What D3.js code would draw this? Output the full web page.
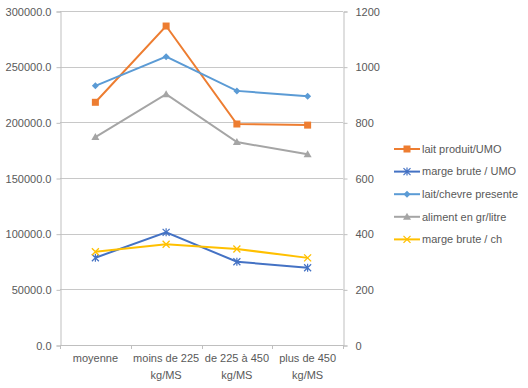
<!DOCTYPE html>
<html>
<head>
<meta charset="utf-8">
<script src="https://d3js.org/d3.v7.min.js"></script>
<style>
  body { margin: 0; background: #fff; }
  text { font-family: "Liberation Sans", Arial, sans-serif; font-size: 11px; fill: #595959; }
</style>
</head>
<body>
<script>
// categories and tick values
var categories = ["moyenne", "moins de 225 kg/MS", "de 225 à 450 kg/MS", "plus de 450 kg/MS"];
var catLines = [["moyenne"], ["moins de 225", "kg/MS"], ["de 225 à 450", "kg/MS"], ["plus de 450", "kg/MS"]];
var leftTicks = [0, 50000, 100000, 150000, 200000, 250000, 300000];
var rightTicks = [0, 200, 400, 600, 800, 1000, 1200];

// series values (left axis)
var laitProduitUMO = [218000, 286500, 198500, 197500];
var margeBruteUMO = [78400, 101200, 74800, 69400];
// series values (right axis)
var laitChevre = [931, 1036, 913, 894];
var alimentGrLitre = [747, 901, 729, 685];
var margeBruteCh = [335, 362, 345, 313];

var series = [
  { name: "lait produit/UMO", values: laitProduitUMO, axis: "left", color: "#ED7D31", marker: "square" },
  { name: "marge brute / UMO", values: margeBruteUMO, axis: "left", color: "#4472C4", marker: "star" },
  { name: "lait/chevre presente", values: laitChevre, axis: "right", color: "#5B9BD5", marker: "diamond" },
  { name: "aliment en gr/litre", values: alimentGrLitre, axis: "right", color: "#A5A5A5", marker: "triangle" },
  { name: "marge brute / ch", values: margeBruteCh, axis: "right", color: "#FFC000", marker: "cross" }
];

var width = 528, height = 388;
var plotLeft = 60, plotRight = 343, plotTop = 11, plotBottom = 345;

var svg = d3.select("body").append("svg")
  .attr("width", width)
  .attr("height", height);

var x = d3.scaleBand().domain(categories).range([plotLeft, plotRight]);
var yL = d3.scaleLinear().domain([0, 300000]).range([plotBottom, plotTop]);
var yR = d3.scaleLinear().domain([0, 1200]).range([plotBottom, plotTop]);

// gridlines
svg.append("g")
  .selectAll("line")
  .data(leftTicks.slice(1))
  .enter().append("line")
  .attr("x1", plotLeft).attr("x2", plotRight)
  .attr("y1", function(d) { return Math.round(yL(d)) + 0.5; })
  .attr("y2", function(d) { return Math.round(yL(d)) + 0.5; })
  .style("stroke", "#c8c8c8")
  .style("stroke-width", 1);

// left axis
var gL = svg.append("g").attr("transform", "translate(" + (plotLeft + 0.5) + ",0.5)")
  .call(d3.axisLeft(yL).tickValues(leftTicks).tickFormat(d3.format(".1f")).tickSize(4).tickPadding(5));
// right axis
var gR = svg.append("g").attr("transform", "translate(" + (plotRight + 0.5) + ",0.5)")
  .call(d3.axisRight(yR).tickValues(rightTicks).tickFormat(d3.format("d")).tickSize(4).tickPadding(8));
[gL, gR].forEach(function(g) {
  g.select(".domain").style("stroke", "#bfbfbf");
  g.selectAll(".tick line").style("stroke", "#bfbfbf");
  g.selectAll("text").style("font-family", "Liberation Sans, Arial, sans-serif").style("font-size", "11px").style("fill", "#595959");
});

// bottom axis
svg.append("line")
  .attr("x1", plotLeft).attr("x2", plotRight + 1)
  .attr("y1", plotBottom + 0.5).attr("y2", plotBottom + 0.5)
  .style("stroke", "#bfbfbf");
var bounds = categories.map(function(c) { return x(c); }).concat([plotRight]);
svg.append("g").selectAll("line")
  .data(bounds)
  .enter().append("line")
  .attr("x1", function(d) { return Math.round(d) + 0.5; }).attr("x2", function(d) { return Math.round(d) + 0.5; })
  .attr("y1", plotBottom).attr("y2", plotBottom + 4)
  .style("stroke", "#bfbfbf");

var labels = svg.append("g").selectAll("text")
  .data(categories)
  .enter().append("text")
  .attr("text-anchor", "middle")
  .attr("transform", function(d) { return "translate(" + (x(d) + x.bandwidth() / 2) + "," + (plotBottom + 17) + ")"; });
labels.selectAll("tspan")
  .data(function(d, i) { return catLines[i]; })
  .enter().append("tspan")
  .attr("x", 0)
  .attr("dy", function(d, i) { return i === 0 ? 0 : 17; })
  .text(function(d) { return d; });

// marker drawing
function drawMarker(g, type, color) {
  if (type === "square") {
    g.append("rect").attr("x", -3.5).attr("y", -3.5).attr("width", 7).attr("height", 7).style("fill", color);
  } else if (type === "diamond") {
    g.append("path").attr("d", "M0,-3.5L3.5,0L0,3.5L-3.5,0Z").style("fill", color);
  } else if (type === "triangle") {
    g.append("path").attr("d", "M0,-4L4,3L-4,3Z").style("fill", color);
  } else if (type === "cross") {
    g.append("path").attr("d", "M-3.5,-3.5L3.5,3.5M-3.5,3.5L3.5,-3.5").style("stroke", color).style("stroke-width", 1.3);
  } else if (type === "star") {
    g.append("path").attr("d", "M-3.5,-3.5L3.5,3.5M-3.5,3.5L3.5,-3.5M0,-4L0,4").style("stroke", color).style("stroke-width", 1.2);
  }
}

// lines
series.forEach(function(s) {
  var y = s.axis === "left" ? yL : yR;
  var line = d3.line()
    .x(function(d, i) { return x(categories[i]) + x.bandwidth() / 2; })
    .y(function(d) { return y(d); });
  svg.append("path")
    .datum(s.values)
    .attr("d", line)
    .style("fill", "none")
    .style("stroke", s.color)
    .style("stroke-width", 2);
  s.values.forEach(function(v, i) {
    var g = svg.append("g").attr("transform", "translate(" + (x(categories[i]) + x.bandwidth() / 2) + "," + y(v) + ")");
    drawMarker(g, s.marker, s.color);
  });
});

// legend
var legend = svg.append("g").selectAll("g")
  .data(series)
  .enter().append("g")
  .attr("transform", function(d, i) { return "translate(394," + (149 + i * 22.6) + ")"; });
legend.append("line")
  .attr("x1", 0).attr("x2", 26)
  .style("stroke", function(d) { return d.color; })
  .style("stroke-width", 2);
legend.each(function(d) {
  var g = d3.select(this).append("g").attr("transform", "translate(13,0)");
  drawMarker(g, d.marker, d.color);
});
legend.append("text")
  .attr("x", 28)
  .attr("dy", "0.35em")
  .text(function(d) { return d.name; });
</script>
</body>
</html>
